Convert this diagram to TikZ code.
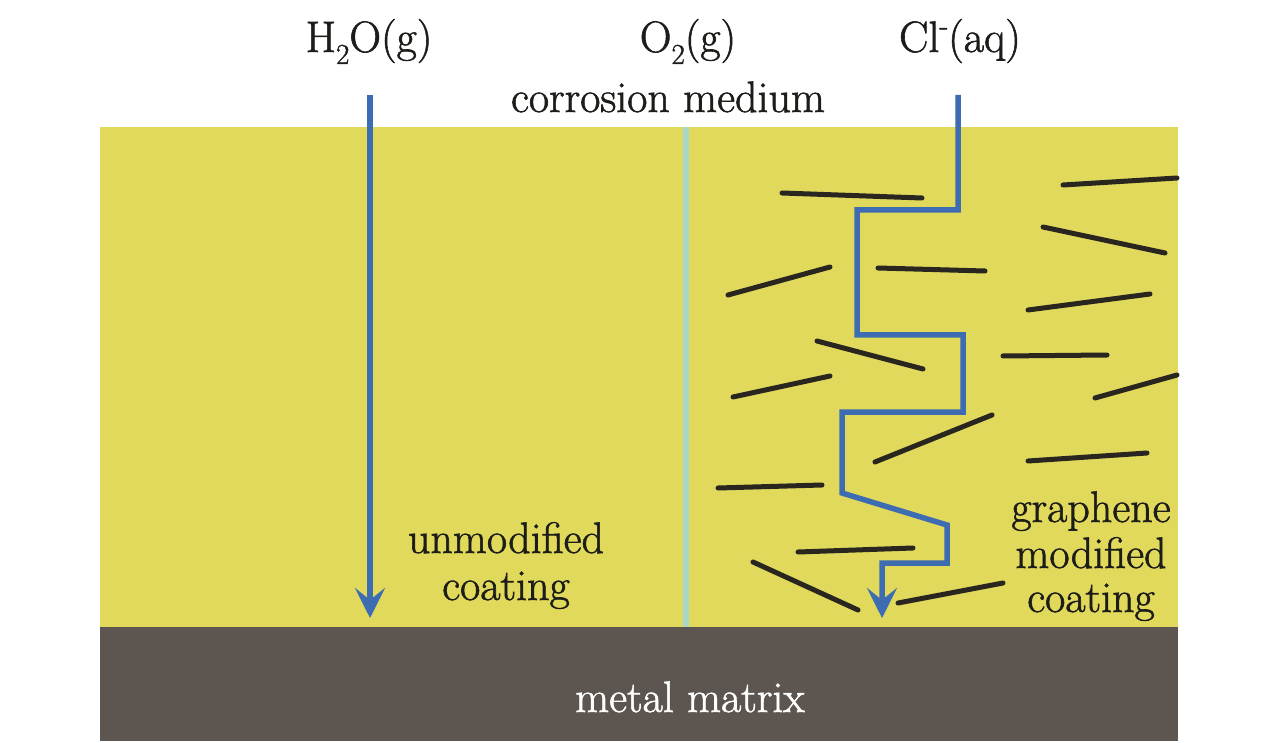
\documentclass[tikz,border=0pt]{standalone}
\usepackage{graphicx}
\usepackage{fontspec}
\setmainfont{Latin Modern Roman}[FakeBold=1.3]
\usetikzlibrary{arrows.meta}
\definecolor{coat}{RGB}{225,217,92}
\definecolor{metal}{RGB}{93,86,80}
\definecolor{flowblue}{RGB}{62,108,178}
\definecolor{divider}{RGB}{170,214,200}
\definecolor{flake}{RGB}{40,38,30}
\definecolor{ink}{RGB}{28,28,24}
\newcommand{\chemsub}[1]{\raisebox{-12pt}{\fontsize{29}{29}\selectfont #1}}
\newcommand{\chemsupr}[1]{\raisebox{17pt}{\fontsize{29}{29}\selectfont #1}}
\begin{document}
\begin{tikzpicture}[x=1pt,y=-1pt,
  lbl/.style={font=\fontsize{44}{48}\selectfont, text=ink, inner sep=0pt, anchor=base},
  flow/.style={draw=flowblue, line width=5.5pt, -{Stealth[length=30pt,width=30pt,inset=12pt]}},
  sheet/.style={draw=flake, line width=5pt, line cap=round}]
\useasboundingbox (0,0) rectangle (1280,743);
% layers
\fill[coat] (100,127) rectangle (1178,627);
\fill[metal] (100,627) rectangle (1178,741);
\draw[divider, line width=6pt] (686,127) -- (686,627);
% graphene sheets
\draw[sheet] (782,193) -- (922,198);
\draw[sheet] (1063,185) -- (1177,178);
\draw[sheet] (1043,227) -- (1165,253);
\draw[sheet] (728,295) -- (830,267);
\draw[sheet] (878,268) -- (985,271);
\draw[sheet] (1028,310) -- (1150,294);
\draw[sheet] (817,341) -- (923,369);
\draw[sheet] (1003,356) -- (1107,355);
\draw[sheet] (733,397) -- (830,376);
\draw[sheet] (1095,398) -- (1177,375);
\draw[sheet] (875,462) -- (992,415);
\draw[sheet] (1028,461) -- (1147,453);
\draw[sheet] (718,488) -- (822,485);
\draw[sheet] (798,552) -- (913,548);
\draw[sheet] (753,562) -- (858,610);
\draw[sheet] (898,603) -- (1003,583);
% flows
\coordinate (h2oin) at (370,95);
\coordinate (h2oout) at (370,618);
\draw[flow] (h2oin) -- (h2oout);
\coordinate (clin) at (958,95);
\coordinate (clout) at (882,618);
\draw[flow] (clin) -- (958,210) -- (857,210) -- (857,335) -- (963,335) -- (963,412)
  -- (842,412) -- (842,493) -- (947,525) -- (947,563) -- (882,563) -- (clout);
% labels
\node[lbl] (h2o) at (369,52) {H\chemsub{2}O(g)};
\node[lbl] (o2) at (688,52) {O\chemsub{2}(g)};
\node[lbl] (cl) at (960,52) {Cl\chemsupr{-}(aq)};
\node[lbl] (medium) at (668,112) {corrosion medium};
\node[lbl] (unmod1) at (506,553) {unmodified};
\node[lbl] (unmod2) at (506,600) {coating};
\node[lbl] (gm1) at (1091,522) {graphene};
\node[lbl] (gm2) at (1091,568) {modified};
\node[lbl] (gm3) at (1091,612) {coating};
\node[lbl, text=white] (metalmatrix) at (690,712) {metal matrix};
\end{tikzpicture}
\end{document}
